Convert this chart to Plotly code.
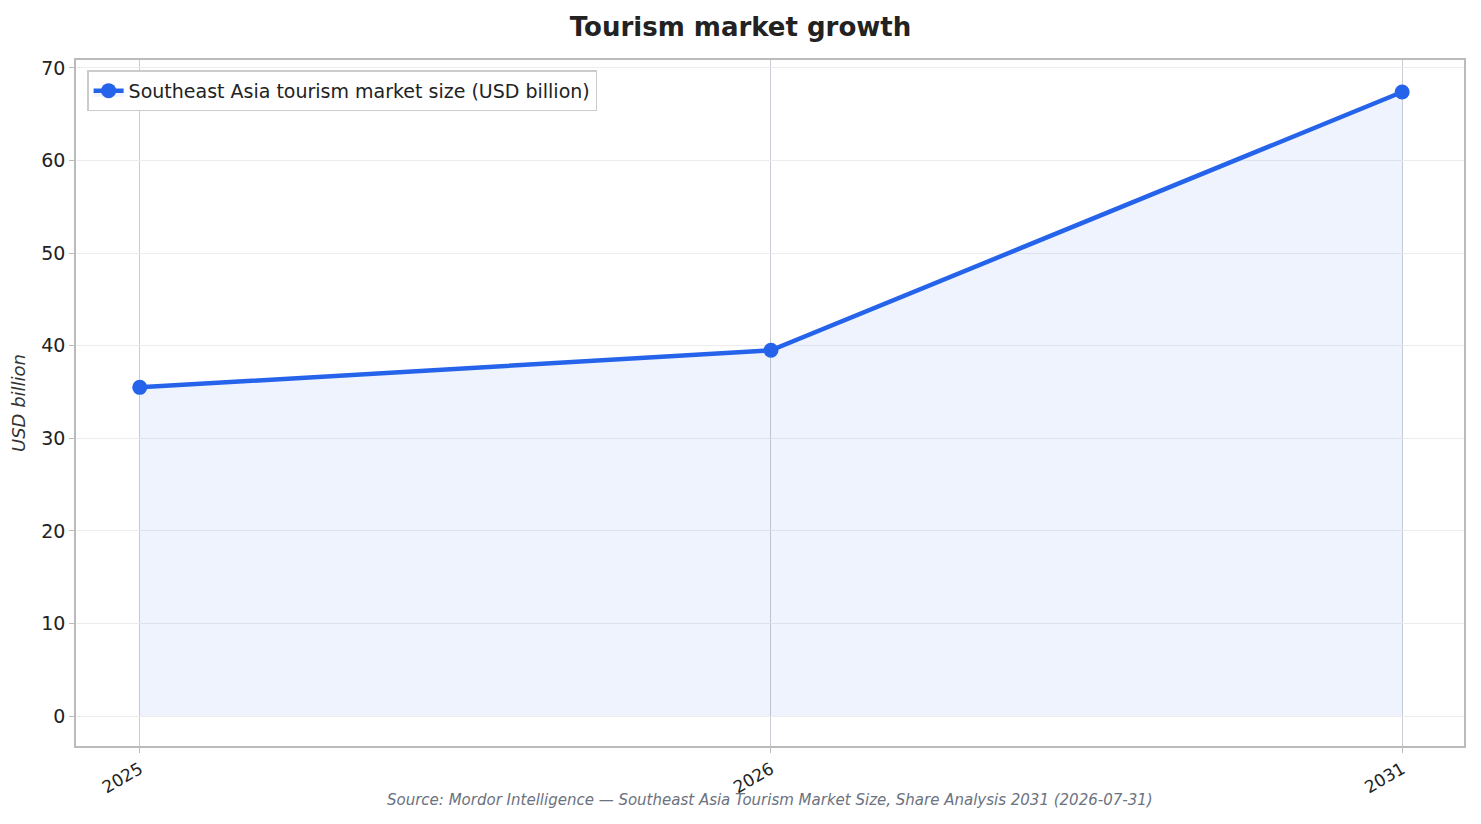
import plotly.graph_objects as go

years = ["2025", "2026", "2031"]
market_size = [35.5, 39.5, 67.4]
y_ticks = [0, 10, 20, 30, 40, 50, 60, 70]

fig = go.Figure()
fig.add_trace(go.Scatter(
    x=years, y=market_size, mode="lines+markers",
    name="Southeast Asia tourism market size (USD billion)",
    line=dict(color="#2563eb", width=4.5),
    marker=dict(size=15, color="#2563eb"),
    fill="tozeroy", fillcolor="rgba(37,99,235,0.08)",
))
fig.update_layout(
    width=1465, height=808,
    paper_bgcolor="white", plot_bgcolor="white",
    margin=dict(l=67, r=7, t=52, b=70),
    font=dict(family="DejaVu Sans", color="#222"),
    title=dict(text="<b>Tourism market growth</b>", x=0.5, xanchor="center",
               yref="container", y=0.976, yanchor="middle",
               font=dict(size=26, color="#222")),
    showlegend=True,
    legend=dict(x=0.008, y=0.985, xanchor="left", yanchor="top",
                bordercolor="#cccccc", borderwidth=1.5, bgcolor="white",
                font=dict(size=19)),
    xaxis=dict(type="category", range=[-0.101, 2.098], showgrid=True,
               gridcolor="#c8ccd2", gridwidth=1.2, tickangle=-30,
               tickfont=dict(size=17), showline=True, linecolor="#bbbbbb",
               linewidth=1.5, mirror=True, ticks="outside", ticklen=5,
               tickcolor="#bbbbbb", zeroline=False),
    yaxis=dict(range=[-3.24, 70.86], tickvals=y_ticks, showgrid=True,
               gridcolor="#ececec", tickfont=dict(size=19),
               title=dict(text="<i>USD billion</i>", font=dict(size=18, color="#333"), standoff=14),
               showline=True, linecolor="#bbbbbb", linewidth=1.5, mirror=True,
               ticks="outside", ticklen=5, tickcolor="#bbbbbb", zeroline=False),
)
fig.add_annotation(text="<i>Source: Mordor Intelligence — Southeast Asia Tourism Market Size, Share Analysis 2031 (2026-07-31)</i>",
                   xref="paper", yref="paper", x=0.5, y=-0.063, showarrow=False,
                   font=dict(size=15, color="#6b7280"), xanchor="center", yanchor="top")
fig.write_html("out.html")
